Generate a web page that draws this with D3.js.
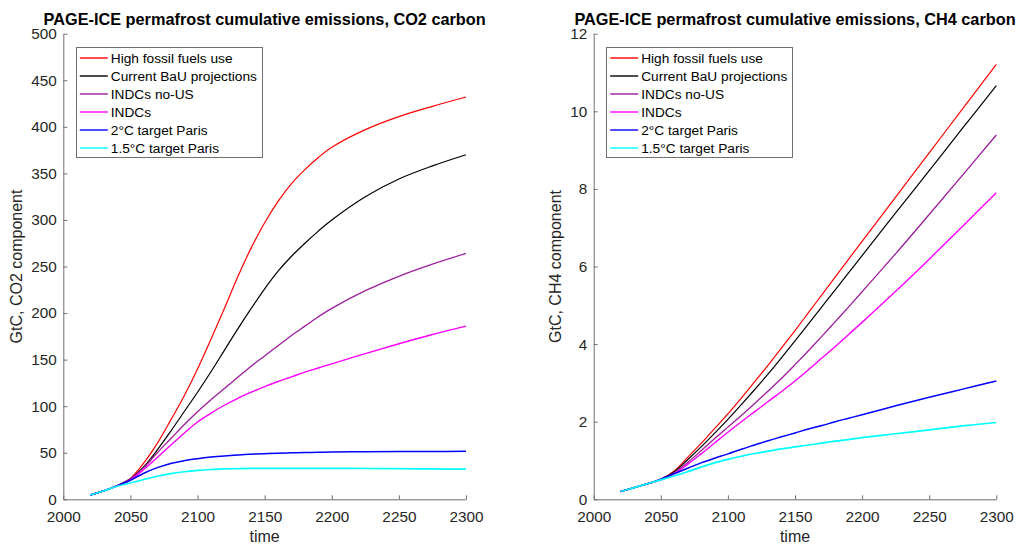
<!DOCTYPE html>
<html>
<head>
<meta charset="utf-8">
<script src="https://cdn.jsdelivr.net/npm/d3@7"></script>
<style>
  body { margin: 0; background: #fff; }
  svg { display: block; }
  text { font-family: "Liberation Sans", Arial, Helvetica, sans-serif; }
</style>
</head>
<body>
<svg id="chart" width="1016" height="544"></svg>
<script>
// Sample years shared by every scenario
const years = [2020, 2030, 2040, 2050, 2060, 2070, 2080, 2090, 2100, 2110, 2120, 2130,
               2140, 2150, 2160, 2170, 2180, 2190, 2200, 2225, 2250, 2275, 2300];

const scenarioNames = ["High fossil fuels use", "Current BaU projections", "INDCs no-US",
                       "INDCs", "2°C target Paris", "1.5°C target Paris"];
const scenarioColors = ["#ff0000", "#000000", "#9c1c9c", "#ff00ff", "#0000ff", "#00ffff"];
const scenarioWidths = [1.2, 1.2, 1.3, 1.4, 1.5, 1.7];

// Cumulative permafrost CO2 carbon (GtC)
const co2HighFossil = [4.6, 9, 14.6, 22.5, 39, 60, 85, 111, 140, 172, 205, 239,
                       270, 297, 320, 339, 354, 367, 378, 397, 411, 422, 432];
const co2CurrentBau = [4.6, 9, 14.6, 22, 35, 53, 73, 94, 115, 137, 160, 183,
                       205, 226, 245, 261, 275, 288, 300, 325, 344, 358, 370];
const co2IndcsNoUs  = [4.6, 9, 14.6, 22, 34, 50, 65, 80, 94, 107, 119, 131,
                       143, 154, 165, 176, 186, 196, 205, 224, 239.5, 252.5, 264];
const co2Indcs      = [4.6, 9, 14.5, 21, 32, 45, 58, 71, 83, 92.5, 101, 108.5,
                       115, 121, 126.5, 131.5, 136.5, 141, 145.5, 156.5, 167, 177, 186];
const co2Paris2     = [4.6, 9, 14.4, 20.5, 28, 34, 38.5, 41.5, 43.6, 45.3, 46.6, 47.6,
                       48.4, 49, 49.5, 49.9, 50.2, 50.5, 50.7, 51.1, 51.3, 51.4, 51.5];
const co2Paris15    = [4.6, 8.9, 14, 17.5, 21.3, 24.8, 27.6, 29.6, 31, 32, 32.6, 33,
                       33.2, 33.3, 33.3, 33.3, 33.3, 33.2, 33.2, 33.1, 32.9, 32.6, 32.3];

// Cumulative permafrost CH4 carbon (GtC)
const ch4HighFossil = [0.2, 0.3, 0.4, 0.52, 0.73, 1.08, 1.44, 1.82, 2.2, 2.61, 3.03, 3.46,
                       3.9, 4.35, 4.81, 5.27, 5.73, 6.19, 6.65, 7.79, 8.93, 10.07, 11.21];
const ch4CurrentBau = [0.2, 0.3, 0.4, 0.51, 0.71, 1.02, 1.35, 1.7, 2.06, 2.44, 2.83, 3.23,
                       3.65, 4.08, 4.52, 4.96, 5.4, 5.84, 6.28, 7.38, 8.47, 9.57, 10.66];
const ch4IndcsNoUs  = [0.2, 0.3, 0.4, 0.5, 0.68, 0.95, 1.25, 1.56, 1.86, 2.16, 2.47, 2.79,
                       3.12, 3.47, 3.83, 4.2, 4.58, 4.96, 5.35, 6.33, 7.34, 8.36, 9.39];
const ch4Indcs      = [0.2, 0.3, 0.4, 0.5, 0.66, 0.9, 1.17, 1.45, 1.73, 2.0, 2.26, 2.52,
                       2.78, 3.05, 3.34, 3.64, 3.94, 4.25, 4.56, 5.36, 6.19, 7.04, 7.9];
const ch4Paris2     = [0.2, 0.3, 0.4, 0.52, 0.66, 0.8, 0.94, 1.06, 1.17, 1.29, 1.4, 1.51,
                       1.61, 1.71, 1.81, 1.9, 2.0, 2.09, 2.18, 2.41, 2.63, 2.84, 3.05];
const ch4Paris15    = [0.2, 0.3, 0.4, 0.5, 0.6, 0.71, 0.83, 0.94, 1.03, 1.11, 1.18, 1.24,
                       1.3, 1.35, 1.4, 1.45, 1.5, 1.54, 1.59, 1.69, 1.79, 1.89, 1.98];

const xTicks   = [2000, 2050, 2100, 2150, 2200, 2250, 2300];
const co2Ticks = [0, 50, 100, 150, 200, 250, 300, 350, 400, 450, 500];
const ch4Ticks = [0, 2, 4, 6, 8, 10, 12];

const panels = [
  {
    title: "PAGE-ICE permafrost cumulative emissions, CO2 carbon",
    ylabel: "GtC, CO2 component",
    series: [co2HighFossil, co2CurrentBau, co2IndcsNoUs, co2Indcs, co2Paris2, co2Paris15],
    yTicks: co2Ticks,
    left: 63.3, right: 466, labelX: 22
  },
  {
    title: "PAGE-ICE permafrost cumulative emissions, CH4 carbon",
    ylabel: "GtC, CH4 component",
    series: [ch4HighFossil, ch4CurrentBau, ch4IndcsNoUs, ch4Indcs, ch4Paris2, ch4Paris15],
    yTicks: ch4Ticks,
    left: 593.7, right: 996.3, labelX: 561
  }
];

const plotTop = 33.7, plotBottom = 499.3;
const axisColor = "#262626";
const svg = d3.select("#chart");

panels.forEach(p => {
  const x = d3.scaleLinear().domain([xTicks[0], xTicks[xTicks.length - 1]]).range([p.left, p.right]);
  const y = d3.scaleLinear().domain([p.yTicks[0], p.yTicks[p.yTicks.length - 1]]).range([plotBottom, plotTop]);

  const g = svg.append("g");

  // data lines
  const line = d3.line().x((d, i) => x(years[i])).y(d => y(d)).curve(d3.curveCatmullRom.alpha(0.5));
  p.series.forEach((vals, k) => {
    g.append("path")
      .attr("d", line(vals))
      .attr("fill", "none")
      .attr("stroke", scenarioColors[k])
      .attr("stroke-width", scenarioWidths[k])
      .attr("stroke-linejoin", "round");
  });

  // axes with inward ticks
  const xAxis = d3.axisBottom(x).tickValues(xTicks).tickFormat(d3.format("d"))
    .tickSizeInner(-4).tickSizeOuter(0).tickPadding(11.5);
  const yAxis = d3.axisLeft(y).tickValues(p.yTicks).tickFormat(d3.format("d"))
    .tickSizeInner(-4).tickSizeOuter(0).tickPadding(6.5);

  const gx = g.append("g").attr("transform", `translate(0,${plotBottom})`).call(xAxis);
  const gy = g.append("g").attr("transform", `translate(${p.left},0)`).call(yAxis);
  [gx, gy].forEach(a => {
    a.select(".domain").attr("stroke", "#707070").attr("stroke-width", 1);
    a.selectAll(".tick line").attr("stroke", "#707070").attr("stroke-width", 1);
    a.selectAll(".tick text").attr("fill", axisColor).style("font-size", "15.3px")
      .style("font-family", '"Liberation Sans", Arial, Helvetica, sans-serif');
  });

  // title and axis labels
  g.append("text")
    .attr("x", (p.left + p.right) / 2).attr("y", 24.5)
    .attr("text-anchor", "middle")
    .style("font-size", "16.3px").style("font-weight", "bold").attr("fill", "#000")
    .text(p.title);

  g.append("text")
    .attr("x", (p.left + p.right) / 2).attr("y", 542)
    .attr("text-anchor", "middle")
    .style("font-size", "16px").attr("fill", axisColor)
    .text("time");

  g.append("text")
    .attr("transform", `translate(${p.labelX},${(plotTop + plotBottom) / 2}) rotate(-90)`)
    .attr("text-anchor", "middle")
    .style("font-size", "16px").attr("fill", axisColor)
    .text(p.ylabel);

  // legend
  const lx = p.left + 12.5, ly = 46.7, lw = 185.5, lh = 110.3;
  const lg = g.append("g");
  lg.append("rect")
    .attr("x", Math.round(lx) + 0.5).attr("y", Math.round(ly) + 0.5)
    .attr("width", Math.round(lw)).attr("height", Math.round(lh))
    .attr("fill", "#fff").attr("stroke", "#707070").attr("stroke-width", 1);
  scenarioNames.forEach((name, k) => {
    const cy = 58 + k * 18;
    lg.append("line")
      .attr("x1", lx + 4).attr("x2", lx + 32)
      .attr("y1", cy).attr("y2", cy)
      .attr("stroke", scenarioColors[k]).attr("stroke-width", 1.4);
    lg.append("text")
      .attr("x", lx + 35).attr("y", cy + 5)
      .style("font-size", "13.7px").attr("fill", "#000")
      .text(name);
  });
});
</script>
</body>
</html>
